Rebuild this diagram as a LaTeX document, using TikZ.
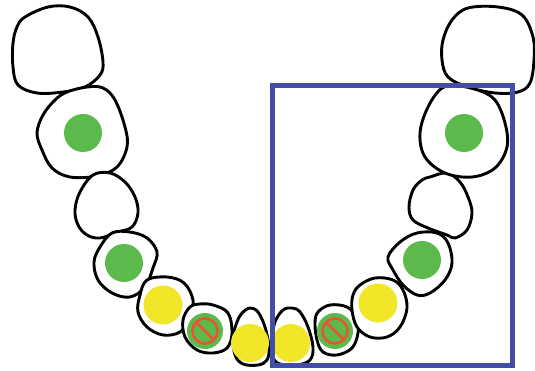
\documentclass[tikz,border=0pt]{standalone}
\usepackage{tikz}

\definecolor{spotgreen}{RGB}{92,186,76}
\definecolor{spotyellow}{RGB}{242,230,40}
\definecolor{banred}{RGB}{232,84,52}
\definecolor{boxblue}{RGB}{66,78,170}

\tikzset{
  tooth/.style={draw=black, fill=white, line width=2.9pt, line join=round},
  green spot/.style={fill=spotgreen},
  yellow spot/.style={fill=spotyellow},
}

\begin{document}
\begin{tikzpicture}[x=1pt, y=-1pt]
    \useasboundingbox (0,0) rectangle (535,371);

    % upper left pair (molars)
    \draw[tooth] plot[smooth cycle, tension=0.6] coordinates {(25,17) (48,7) (70,7) (88,17) (98,37) (103,62) (100,75) (85,87) (63,92) (37,93) (18,85) (13,67) (13,43) (17,27)};
    \draw[tooth] plot[smooth cycle, tension=0.6] coordinates {(67,92) (55,100) (43,115) (37,133) (42,150) (52,168) (70,177) (97,176) (117,167) (127,147) (125,127) (115,100) (103,88) (87,87)};

    % left premolars
    \draw[tooth] plot[smooth cycle, tension=0.6] coordinates {(93,175) (110,173) (125,182) (135,197) (138,213) (132,227) (118,232) (100,238) (87,235) (78,225) (75,210) (80,192)};
    \draw[tooth] plot[smooth cycle, tension=0.6] coordinates {(112,233) (100,247) (94,262) (98,280) (112,293) (130,297) (145,287) (153,268) (157,252) (147,238) (130,232)};

    % left canine and incisors
    \draw[tooth] plot[smooth cycle, tension=0.6] coordinates {(147,280) (140,295) (138,312) (147,327) (163,335) (180,332) (190,318) (193,300) (184,283) (167,277)};
    \draw[tooth] plot[smooth cycle, tension=0.6] coordinates {(190,307) (183,320) (185,337) (197,350) (213,353) (227,348) (232,333) (228,313) (213,305) (200,304)};
    \draw[tooth] plot[smooth cycle, tension=0.6] coordinates {(242,313) (250,308) (258,312) (265,327) (269,347) (267,360) (258,365) (243,364) (235,355) (233,337) (237,322)};

    % right incisors and canine
    \draw[tooth] plot[smooth cycle, tension=0.6] coordinates {(275,322) (283,310) (292,308) (300,312) (308,327) (313,347) (310,360) (297,365) (280,364) (273,357) (272,340)};
    \draw[tooth] plot[smooth cycle, tension=0.6] coordinates {(318,312) (330,305) (347,307) (357,318) (358,333) (352,348) (337,355) (323,352) (317,340) (315,323)};
    \draw[tooth] plot[smooth cycle, tension=0.6] coordinates {(360,285) (375,278) (393,280) (403,290) (407,308) (400,327) (387,337) (370,337) (357,327) (352,310) (353,295)};

    % right premolars
    \draw[tooth] plot[smooth cycle, tension=0.6] coordinates {(400,242) (417,233) (437,233) (448,243) (452,263) (445,280) (430,293) (417,295) (403,285) (393,270) (388,257)};
    \draw[tooth] plot[smooth cycle, tension=0.6] coordinates {(430,177) (447,173) (460,182) (468,197) (472,213) (467,230) (455,238) (447,235) (428,228) (413,220) (409,207) (413,190) (422,180)};

    % upper right pair (molars)
    \draw[tooth] plot[smooth cycle, tension=0.6] coordinates {(442,88) (428,107) (420,133) (425,157) (445,173) (472,177) (495,168) (507,147) (505,123) (495,100) (478,90) (458,86)};
    \draw[tooth] plot[smooth cycle, tension=0.6] coordinates {(452,20) (468,8) (498,7) (522,15) (533,37) (534,60) (530,83) (518,92) (495,93) (468,87) (448,77) (442,60) (443,40)};

    % spots
    \fill[green spot] (83,133) circle (19);
    \fill[green spot] (124,263) circle (19);
    \fill[yellow spot] (163,305) circle (19.5);
    \fill[green spot] (205,331) circle (18);
    \fill[yellow spot] (250,343) circle (19);
    \fill[yellow spot] (291,343) circle (19);
    \fill[green spot] (335,331) circle (18);
    \fill[yellow spot] (378,303) circle (19.5);
    \fill[green spot] (422,260) circle (19);
    \fill[green spot] (464,133) circle (19);

    % "no" signs on the lateral incisors
    \foreach \cx in {205,335} {
        \draw[banred, line width=2.6pt] (\cx,331) circle (12.5);
        \draw[banred, line width=2.6pt] (\cx-8.5,331-8.5) -- (\cx+8.5,331+8.5);
    }

    % selection frame
    \draw[boxblue, line width=5pt, line join=miter] (272,86) rectangle (512,365);
\end{tikzpicture}
\end{document}
